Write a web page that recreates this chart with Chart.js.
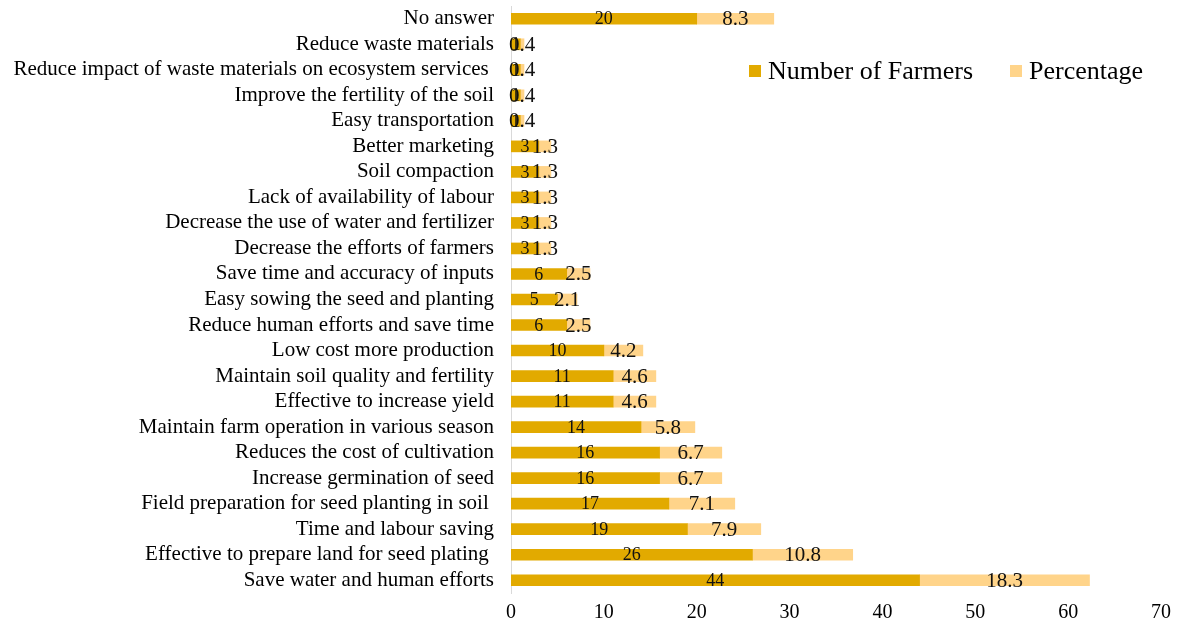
<!DOCTYPE html>
<html lang="en">
<head>
  <meta charset="UTF-8">
  <title>Farmers responses</title>
  <style>
    html, body { margin: 0; padding: 0; background: #fff; }
    .wrap { width: 1179px; height: 629px; }
  </style>
</head>
<body>
  <div class="wrap"><canvas id="farmchart" width="1179" height="629"></canvas></div>
  <script src="https://cdn.jsdelivr.net/npm/chart.js@4.4.0/dist/chart.umd.min.js"></script>
  <script>
    // data, top row first
    const categories = [
      'No answer',
      'Reduce waste materials',
      'Reduce impact of waste materials on ecosystem services ',
      'Improve the fertility of the soil',
      'Easy transportation',
      'Better marketing',
      'Soil compaction',
      'Lack of availability of labour',
      'Decrease the use of water and fertilizer',
      'Decrease the efforts of farmers',
      'Save time and accuracy of inputs',
      'Easy sowing the seed and planting',
      'Reduce human efforts and save time',
      'Low cost more production',
      'Maintain soil quality and fertility',
      'Effective to increase yield',
      'Maintain farm operation in various season',
      'Reduces the cost of cultivation',
      'Increase germination of seed',
      'Field preparation for seed planting in soil ',
      'Time and labour saving',
      'Effective to prepare land for seed plating ',
      'Save water and human efforts'
    ];
    const farmers = [20, 1, 1, 1, 1, 3, 3, 3, 3, 3, 6, 5, 6, 10, 11, 11, 14, 16, 16, 17, 19, 26, 44];
    const percentage = [8.3, 0.4, 0.4, 0.4, 0.4, 1.3, 1.3, 1.3, 1.3, 1.3, 2.5, 2.1, 2.5, 4.2, 4.6, 4.6, 5.8, 6.7, 6.7, 7.1, 7.9, 10.8, 18.3];
    const xTicks = [0, 10, 20, 30, 40, 50, 60, 70];

    const serif = '"Liberation Serif", "Times New Roman", serif';

    // value labels in the middle of each segment
    const barLabels = {
      id: 'barLabels',
      afterDatasetsDraw(chart) {
        const ctx = chart.ctx;
        ctx.save();
        ctx.fillStyle = '#111';
        ctx.textAlign = 'center';
        ctx.textBaseline = 'middle';
        chart.data.datasets.forEach((ds, i) => {
          const meta = chart.getDatasetMeta(i);
          ctx.font = (i === 0 ? '18px ' : '21px ') + serif;
          meta.data.forEach((bar, j) => {
            const cx = (bar.x + bar.base) / 2;
            ctx.fillText(String(ds.data[j]), cx, bar.y + 1);
          });
        });
        ctx.restore();
      }
    };

    // legend sitting inside the plot, top right
    const innerLegend = {
      id: 'innerLegend',
      afterDraw(chart) {
        const ctx = chart.ctx;
        const y = 71;
        const spots = [749, 1010];
        ctx.save();
        ctx.font = '26px ' + serif;
        ctx.textBaseline = 'middle';
        ctx.textAlign = 'left';
        chart.data.datasets.forEach((ds, i) => {
          const x = spots[i];
          ctx.fillStyle = ds.backgroundColor;
          ctx.fillRect(x, y - 6, 12, 12);
          ctx.fillStyle = '#000';
          ctx.fillText(ds.label, x + 19, y + 1);
        });
        ctx.restore();
      }
    };

    const ctx = document.getElementById('farmchart').getContext('2d');
    new Chart(ctx, {
      type: 'bar',
      data: {
        labels: categories,
        datasets: [{
          label: 'Number of Farmers',
          data: farmers,
          backgroundColor: '#E2AA00',
          barThickness: 11
        }, {
          label: 'Percentage',
          data: percentage,
          backgroundColor: '#FFD48A',
          barThickness: 11
        }]
      },
      options: {
        indexAxis: 'y',
        responsive: false,
        animation: false,
        layout: {
          padding: { top: 6, right: 15, bottom: 0, left: 0 }
        },
        scales: {
          x: {
            stacked: true,
            min: 0,
            max: 70,
            afterBuildTicks: (axis) => { axis.ticks = xTicks.map(v => ({ value: v })); },
            afterFit: (axis) => { axis.height = 36; },
            border: { display: false },
            grid: { display: false, drawTicks: false },
            ticks: {
              color: '#000',
              padding: 8,
              font: { family: serif, size: 20 }
            }
          },
          y: {
            stacked: true,
            afterFit: (axis) => {
              axis.width = 511;
              axis.paddingTop = 0;
              axis.paddingBottom = 0;
            },
            border: { display: true, color: '#d9d9d9', width: 1 },
            grid: { display: false, drawTicks: false },
            ticks: {
              color: '#000',
              padding: 17,
              autoSkip: false,
              font: { family: serif, size: 21 }
            }
          }
        },
        plugins: {
          legend: { display: false },
          tooltip: { enabled: false }
        }
      },
      plugins: [barLabels, innerLegend]
    });
  </script>
</body>
</html>
